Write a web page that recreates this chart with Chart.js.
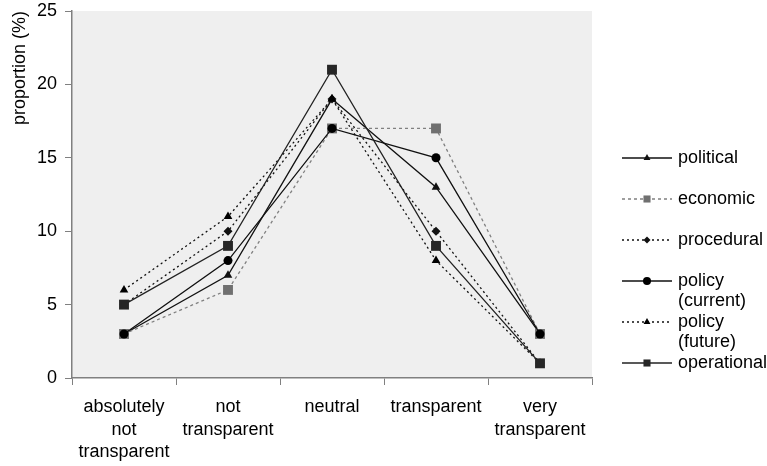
<!DOCTYPE html>
<html>
<head>
<meta charset="utf-8">
<script src="https://cdn.jsdelivr.net/npm/chart.js@4/dist/chart.umd.min.js"></script>
<style>
  html, body { margin: 0; padding: 0; background: #ffffff; }
  #wrap { width: 767px; height: 466px; position: relative; }
</style>
</head>
<body>
<div id="wrap"><canvas id="chart"></canvas></div>
<script>
// categories on the x axis (multi-line labels)
const categories = [
    ['absolutely', 'not', 'transparent'],
    ['not', 'transparent'],
    'neutral',
    'transparent',
    ['very', 'transparent']
];

// proportion (%) per series
const political     = [3, 7, 19, 13, 3];
const economic      = [3, 6, 17, 17, 3];
const procedural    = [5, 10, 19, 10, 1];
const policyCurrent = [3, 8, 17, 15, 3];
const policyFuture  = [6, 11, 19, 8, 1];
const operational   = [5, 9, 21, 9, 1];

const seriesNames = [
    ['political'],
    ['economic'],
    ['procedural'],
    ['policy', '(current)'],
    ['policy', '(future)'],
    ['operational']
];

const yTicks = [0, 5, 10, 15, 20, 25];

const FONT = 'Arial, "Liberation Sans", sans-serif';

function series(values, name, style) {
    return Object.assign({
        label: name.join(' '),
        legendLines: name,
        data: values,
        fill: false,
        tension: 0,
        borderWidth: 1.3,
        pointBorderWidth: 0
    }, style);
}

const datasets = [
    series(political, seriesNames[0], {
        borderColor: '#111', backgroundColor: '#111',
        pointStyle: 'triangle', pointRadius: 5, legendRadius: 4
    }),
    series(economic, seriesNames[1], {
        borderColor: '#808080', backgroundColor: '#707070', borderDash: [3, 3],
        pointStyle: 'rect', pointRadius: 7, legendRadius: 5
    }),
    series(procedural, seriesNames[2], {
        borderColor: '#111', backgroundColor: '#111', borderDash: [2, 3],
        pointStyle: 'rectRot', pointRadius: 4.5, legendRadius: 3.5
    }),
    series(policyCurrent, seriesNames[3], {
        borderColor: '#111', backgroundColor: '#000',
        pointStyle: 'circle', pointRadius: 4.5, legendRadius: 4
    }),
    series(policyFuture, seriesNames[4], {
        borderColor: '#111', backgroundColor: '#000', borderDash: [2, 3],
        pointStyle: 'triangle', pointRadius: 5, legendRadius: 4
    }),
    series(operational, seriesNames[5], {
        borderColor: '#222', backgroundColor: '#262626',
        pointStyle: 'rect', pointRadius: 7, legendRadius: 5
    })
];
// later series drawn on top
datasets.forEach((ds, i) => { ds.order = datasets.length - i; });

// grey plot background
const plotBackground = {
    id: 'plotBackground',
    beforeDraw(chart) {
        const a = chart.chartArea;
        const ctx = chart.ctx;
        ctx.save();
        ctx.fillStyle = '#efefef';
        ctx.fillRect(a.left, a.top, a.right - a.left, a.bottom - a.top);
        ctx.restore();
    }
};

// legend on the right: short line with marker in the middle
const sideLegend = {
    id: 'sideLegend',
    afterDraw(chart) {
        const ctx = chart.ctx;
        const x0 = chart.chartArea.right + 30;
        const x1 = x0 + 50;
        const xm = (x0 + x1) / 2;
        const top = 158;
        const step = 41;
        ctx.save();
        chart.data.datasets.forEach((ds, i) => {
            const y = top + i * step;
            ctx.beginPath();
            ctx.setLineDash(ds.borderDash || []);
            ctx.strokeStyle = ds.borderColor;
            ctx.lineWidth = ds.borderWidth;
            ctx.moveTo(x0, y);
            ctx.lineTo(x1, y);
            ctx.stroke();
            ctx.setLineDash([]);
            ctx.fillStyle = ds.backgroundColor;
            ctx.strokeStyle = ds.backgroundColor;
            Chart.helpers.drawPoint(ctx, {
                pointStyle: ds.pointStyle,
                radius: ds.legendRadius,
                rotation: 0,
                borderWidth: 0
            }, xm, y);
            ctx.fillStyle = '#000';
            ctx.font = '18px ' + FONT;
            ctx.textBaseline = 'middle';
            ctx.textAlign = 'left';
            ds.legendLines.forEach((t, k) => {
                ctx.fillText(t, x1 + 6, y + k * 20);
            });
        });
        ctx.restore();
    }
};

new Chart(document.getElementById('chart'), {
    type: 'line',
    data: {
        labels: categories,
        datasets: datasets
    },
    options: {
        responsive: true,
        maintainAspectRatio: false,
        animation: false,
        layout: {
            padding: { top: 11, right: 175, left: 0, bottom: 0 }
        },
        plugins: {
            legend: { display: false },
            tooltip: { enabled: false }
        },
        scales: {
            x: {
                offset: true,
                grid: {
                    offset: true,
                    drawOnChartArea: false,
                    drawTicks: true,
                    tickLength: 7,
                    color: '#808080'
                },
                border: { display: true, color: '#808080', width: 1.5 },
                ticks: {
                    color: '#000',
                    padding: 11,
                    maxRotation: 0,
                    autoSkip: false,
                    font: { family: FONT, size: 18, lineHeight: 1.25 }
                },
                afterFit(scale) { scale.height = 88; }
            },
            y: {
                min: 0,
                max: 25,
                afterBuildTicks(scale) {
                    scale.ticks = yTicks.map(v => ({ value: v }));
                },
                grid: {
                    drawOnChartArea: false,
                    drawTicks: true,
                    tickLength: 7,
                    color: '#808080'
                },
                border: { display: true, color: '#808080', width: 1.5 },
                ticks: {
                    color: '#000',
                    padding: 8,
                    font: { family: FONT, size: 18 }
                },
                title: {
                    display: true,
                    text: 'proportion (%)',
                    align: 'end',
                    color: '#000',
                    font: { family: FONT, size: 18 },
                    padding: { top: 9, bottom: 0 }
                },
                afterFit(scale) {
                    scale.width = 72;
                    scale.paddingTop = 0;
                    scale.paddingBottom = 0;
                }
            }
        }
    },
    plugins: [plotBackground, sideLegend]
});
</script>
</body>
</html>
